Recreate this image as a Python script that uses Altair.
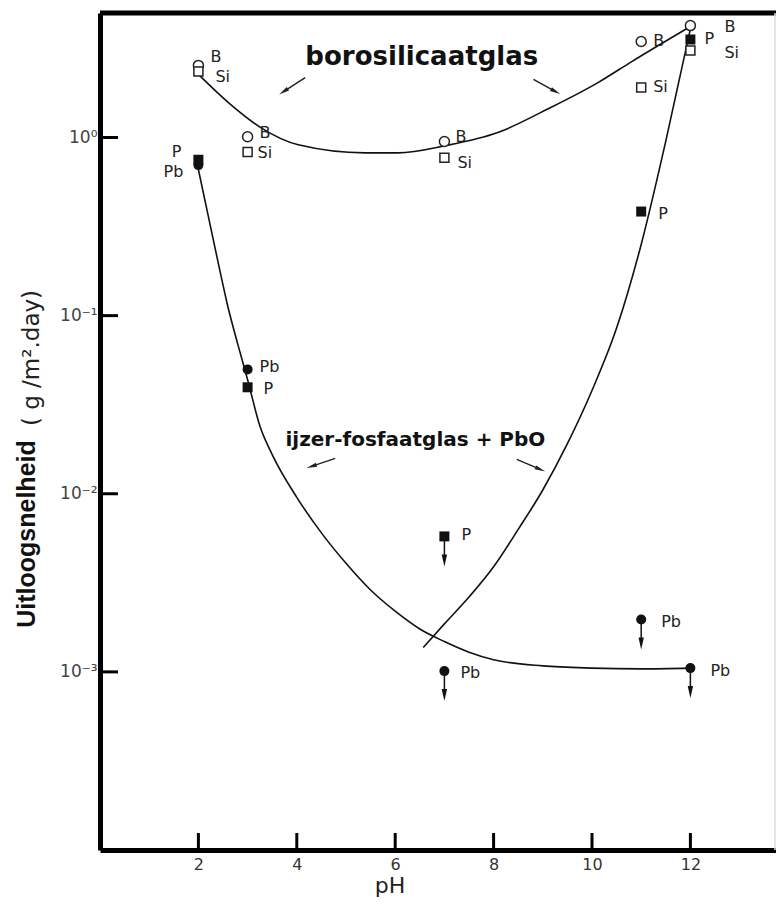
import math
import altair as alt
import pandas as pd

# ---------------- data ----------------
PH = [2, 3, 7, 11, 12]
B_VALUES = [2.54, 1.01, 0.95, 3.46, 4.25]      # borosilicate glass, boron (open circles)
SI_VALUES = [2.35, 0.83, 0.77, 1.91, 3.08]     # borosilicate glass, silicon (open squares)
P_VALUES = [0.75, 0.0396, 0.00576, 0.384, 3.55]      # iron phosphate glass, P (filled squares)
PB_VALUES = [0.70, 0.0499, 0.00101, 0.00197, 0.00105]  # iron phosphate glass, Pb (filled circles)
P_UPPER_LIMIT = [False, False, True, False, False]
PB_UPPER_LIMIT = [False, False, True, True, True]

BORO_CURVE_PH = [2.0, 2.61, 3.26, 4.03, 5.39, 6.06, 7.02, 8.10, 9.11, 10.13, 10.80, 12.0]
BORO_CURVE_VAL = [2.26, 1.57, 1.14, 0.91, 0.82, 0.82, 0.90, 1.07, 1.45, 2.04, 2.66, 4.20]
P_CURVE_PH = [6.57, 7.0, 7.5, 8.0, 8.5, 9.0, 9.5, 10.0, 10.5, 11.0, 11.5, 12.0]
P_CURVE_VAL = [0.00137, 0.00186, 0.00263, 0.00389, 0.00631, 0.0105, 0.0191, 0.0380, 0.0851,
               0.251, 0.955, 4.07]
PB_CURVE_PH = [2.0, 2.2, 2.4, 2.6, 2.8, 3.0, 3.25, 3.5, 4.0, 4.5, 5.0, 5.5, 6.0, 6.5, 7.0,
               7.5, 8.0, 9.0, 10.0, 11.0, 12.0]
PB_CURVE_VAL = [0.661, 0.363, 0.1995, 0.1122, 0.0692, 0.0437, 0.0240, 0.0166, 0.00955, 0.00603,
                0.00407, 0.00288, 0.00219, 0.00174, 0.00148, 0.00129, 0.00117, 0.00108,
                0.00105, 0.00104, 0.00105]

X_TICKS = [2, 4, 6, 8, 10, 12]
Y_TICKS = [1, 0.1, 0.01, 0.001]
Y_TICK_LABELS = ["10⁰", "10⁻¹", "10⁻²", "10⁻³"]

ANNOT_TEXT = ["borosilicaatglas", "ijzer-fosfaatglas + PbO"]
ANNOT_PH = [6.54, 6.41]
ANNOT_VAL = [2.54, 0.0186]

ARROW_TAIL_PH = [4.17, 8.81, 4.78, 8.47]
ARROW_TAIL_VAL = [2.17, 2.12, 0.0158, 0.0156]
ARROW_HEAD_PH = [3.73, 9.26, 4.30, 8.95]
ARROW_HEAD_VAL = [1.81, 1.81, 0.01425, 0.0137]
ARROW_ANGLE = [57.5, 298.6, 71.6, 292.6]

# label offsets (pixels) relative to each marker
B_DX = [12, 12, 11, 12, 34]; B_DY = [-8, -4, -4, 0, 1]
SI_DX = [17, 10, 13, 12, 34]; SI_DY = [6, 1, 5, 0, 3]
P_DX = [-17, 16, 17, 17, 14]; P_DY = [-8, 2, -1, 2, 0]
PB_DX = [-15, 12, 16, 20, 20]; PB_DY = [7, -2, 2, 3, 3]

# ---------------- layout ----------------
W, H = 676, 837
XMIN, XMAX = 0.0, 13.74
YMIN, YMAX = 1e-4, 5.0
PX_PH = W / (XMAX - XMIN)
PX_DEC = H / math.log10(YMAX / YMIN)

def shift(ph, val, dx, dy):
    return ph + dx / PX_PH, val * 10 ** (-dy / PX_DEC)

xscale = alt.Scale(domain=[XMIN, XMAX], nice=False, zero=False)
yscale = alt.Scale(type="log", domain=[YMIN, YMAX], nice=False)

expr = "'" + Y_TICK_LABELS[-1] + "'"
for v, lab in reversed(list(zip(Y_TICKS[:-1], Y_TICK_LABELS[:-1]))):
    expr = f"datum.value >= {v/2} ? '{lab}' : " + expr

xaxis = alt.Axis(values=X_TICKS, format="d", grid=False, ticks=False, domainWidth=5,
                 domainColor="black", labelFontSize=16, labelPadding=6, labelColor="#333",
                 labelFont="DejaVu Sans", title=None)
yaxis = alt.Axis(values=Y_TICKS, labelExpr=expr, grid=False, ticks=False, domainWidth=5,
                 domainColor="black", labelFontSize=17, labelPadding=3, labelColor="#444",
                 labelFont="DejaVu Sans", title=None)

X = alt.X("pH:Q", scale=xscale, axis=xaxis)
Y = alt.Y("value:Q", scale=yscale, axis=yaxis)

def curve(phs, vals):
    df = pd.DataFrame({"pH": phs, "value": vals})
    return alt.Chart(df).mark_line(color="#111", strokeWidth=1.6, interpolate="monotone").encode(
        x=X, y=Y, order="pH:Q")

boro_line = curve(BORO_CURVE_PH, BORO_CURVE_VAL)
p_line = curve(P_CURVE_PH, P_CURVE_VAL)
pb_line = curve(PB_CURVE_PH, PB_CURVE_VAL)

# upper-limit arrows
lim_rows = []
for ph, v, lim in zip(PH, P_VALUES, P_UPPER_LIMIT):
    if lim:
        lim_rows.append((ph, v))
for ph, v, lim in zip(PH, PB_VALUES, PB_UPPER_LIMIT):
    if lim:
        lim_rows.append((ph, v))
lim_df = pd.DataFrame({
    "pH": [r[0] for r in lim_rows],
    "value": [r[1] for r in lim_rows],
    "value2": [r[1] * 10 ** (-22 / PX_DEC) for r in lim_rows],
    "headval": [r[1] * 10 ** (-24 / PX_DEC) for r in lim_rows],
})
lim_stem = alt.Chart(lim_df).mark_rule(color="#111", strokeWidth=1.5).encode(
    x=X, y=Y, y2=alt.Y2("value2:Q"))
lim_head = alt.Chart(lim_df).mark_point(
    shape="M-0.45,-1L0.45,-1L0,1Z", filled=True, color="#111", size=144, opacity=1
).encode(x=X, y=alt.Y("headval:Q", scale=yscale, axis=yaxis))

# markers
b_df = pd.DataFrame({"pH": PH, "value": B_VALUES})
si_df = pd.DataFrame({"pH": PH, "value": SI_VALUES})
p_df = pd.DataFrame({"pH": PH, "value": P_VALUES})
pb_df = pd.DataFrame({"pH": PH, "value": PB_VALUES})

b_pts = alt.Chart(b_df).mark_point(shape="circle", size=100, fill="white", stroke="#222",
                                   strokeWidth=1.5, opacity=1, filled=False).encode(x=X, y=Y)
si_pts = alt.Chart(si_df).mark_point(shape="square", size=81, fill="white", stroke="#222",
                                     strokeWidth=1.5, opacity=1, filled=False).encode(x=X, y=Y)
p_pts = alt.Chart(p_df).mark_point(shape="square", size=100, filled=True, color="#111",
                                   opacity=1).encode(x=X, y=Y)
pb_pts = alt.Chart(pb_df).mark_point(shape="circle", size=100, filled=True, color="#111",
                                     opacity=1).encode(x=X, y=Y)

# point labels
left_rows, right_rows = [], []
for name, vals, dxs, dys in [("B", B_VALUES, B_DX, B_DY), ("Si", SI_VALUES, SI_DX, SI_DY),
                             ("P", P_VALUES, P_DX, P_DY), ("Pb", PB_VALUES, PB_DX, PB_DY)]:
    for ph, v, dx, dy in zip(PH, vals, dxs, dys):
        lx, ly = shift(ph, v, dx, dy)
        (right_rows if dx < 0 else left_rows).append({"pH": lx, "value": ly, "t": name})

lab_left = alt.Chart(pd.DataFrame(left_rows)).mark_text(
    align="left", baseline="middle", font="DejaVu Sans", fontSize=16, color="#222"
).encode(x=X, y=Y, text="t:N")
lab_right = alt.Chart(pd.DataFrame(right_rows)).mark_text(
    align="right", baseline="middle", font="DejaVu Sans", fontSize=16, color="#222"
).encode(x=X, y=Y, text="t:N")

# annotations
annot_df = pd.DataFrame({"pH": ANNOT_PH, "value": ANNOT_VAL, "t": ANNOT_TEXT})
annot1 = alt.Chart(annot_df.iloc[[0]]).mark_text(
    align="center", baseline="alphabetic", font="DejaVu Sans", fontWeight="bold",
    fontSize=26, color="#111").encode(x=X, y=Y, text="t:N")
annot2 = alt.Chart(annot_df.iloc[[1]]).mark_text(
    align="center", baseline="alphabetic", font="DejaVu Sans", fontWeight="bold",
    fontSize=20, color="#111").encode(x=X, y=Y, text="t:N")

arrow_df = pd.DataFrame({"pH": ARROW_TAIL_PH, "value": ARROW_TAIL_VAL,
                         "pH2": ARROW_HEAD_PH, "value2": ARROW_HEAD_VAL,
                         "angle": ARROW_ANGLE})
arrow_lines = alt.Chart(arrow_df).mark_rule(color="#222", strokeWidth=1.5).encode(
    x=X, y=Y, x2=alt.X2("pH2:Q"), y2=alt.Y2("value2:Q"))
arrow_heads = alt.Chart(arrow_df).mark_point(
    shape="M-0.4,-1L0.4,-1L0,1Z", filled=True, color="#222", size=110, opacity=1
).encode(x=alt.X("pH2:Q", scale=xscale, axis=xaxis),
         y=alt.Y("value2:Q", scale=yscale, axis=yaxis),
         angle=alt.Angle("angle:Q", scale=None))

# inward ticks and frame
xt = alt.Chart(pd.DataFrame({"pH": X_TICKS})).mark_rule(color="black", strokeWidth=3).encode(
    x=X, y=alt.value(H), y2=alt.value(H - 17))
yt = alt.Chart(pd.DataFrame({"value": Y_TICKS})).mark_rule(color="black", strokeWidth=3).encode(
    y=Y, x=alt.value(0), x2=alt.value(18))
one = pd.DataFrame({"t": ["x"]})
top_border = alt.Chart(one).mark_rule(color="black", strokeWidth=5).encode(
    x=alt.value(0), x2=alt.value(W), y=alt.value(0))
right_border = alt.Chart(one).mark_rule(color="#ddd", strokeWidth=1.5).encode(
    x=alt.value(W - 1), y=alt.value(0), y2=alt.value(H))

# titles
title_bold = alt.Chart(pd.DataFrame({"t": ["Uitloogsnelheid"]})).mark_text(
    angle=270, align="center", baseline="middle", font="Liberation Sans", fontWeight="bold",
    fontSize=25, color="#111").encode(x=alt.value(-73), y=alt.value(521), text="t:N")
title_unit = alt.Chart(pd.DataFrame({"t": ["( g /m².day)"]})).mark_text(
    angle=270, align="center", baseline="middle", font="DejaVu Sans",
    fontSize=23, color="#222").encode(x=alt.value(-68), y=alt.value(345), text="t:N")
title_x = alt.Chart(pd.DataFrame({"t": ["pH"]})).mark_text(
    align="center", baseline="middle", font="DejaVu Sans",
    fontSize=22, color="#222").encode(x=alt.value(290), y=alt.value(873), text="t:N")

chart = alt.layer(
    boro_line, p_line, pb_line,
    lim_stem, lim_head,
    b_pts, si_pts, p_pts, pb_pts,
    lab_left, lab_right,
    annot1, annot2, arrow_lines, arrow_heads,
    xt, yt, top_border, right_border,
    title_bold, title_unit, title_x,
).properties(
    width=W, height=H,
    autosize=alt.AutoSizeParams(type="none"),
    padding={"left": 92, "top": 5, "right": 0, "bottom": 51},
).configure_view(stroke=None).configure(background="white")

chart.save("out.html", embed_options={"renderer": "svg", "actions": False})
